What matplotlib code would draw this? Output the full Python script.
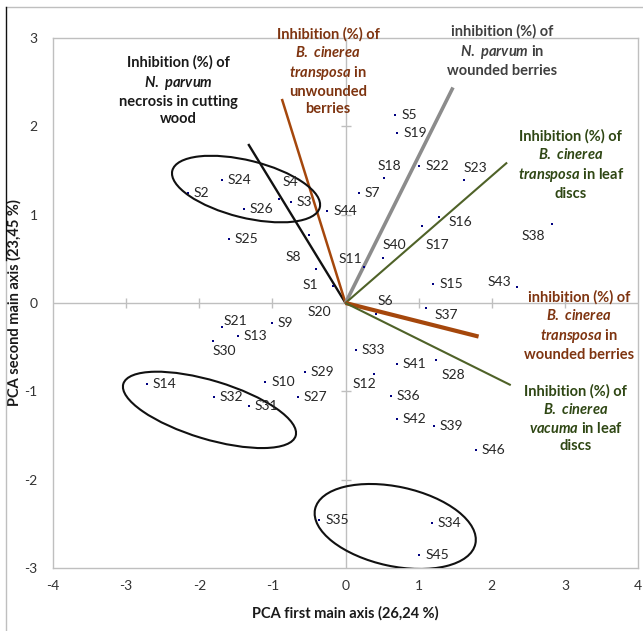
import matplotlib
matplotlib.use("Agg")
import matplotlib.pyplot as plt
from matplotlib.patches import Ellipse
from matplotlib.transforms import ScaledTranslation
from matplotlib.lines import Line2D

plt.rcParams['font.family'] = ['Lato', 'DejaVu Sans']
plt.rcParams['mathtext.fontset'] = 'custom'
plt.rcParams['mathtext.it'] = 'Lato:bold:italic'
plt.rcParams['mathtext.rm'] = 'Lato:bold'
plt.rcParams['mathtext.bf'] = 'Lato:bold'

# scores of the strains on the first two axes
strains = ['S1', 'S2', 'S3', 'S4', 'S5', 'S6', 'S7', 'S8', 'S9', 'S10',
           'S11', 'S12', 'S13', 'S14', 'S15', 'S16', 'S17', 'S18', 'S19', 'S20',
           'S21', 'S22', 'S23', 'S24', 'S25', 'S26', 'S27', 'S28', 'S29', 'S30',
           'S31', 'S32', 'S33', 'S34', 'S35', 'S36', 'S37', 'S38', 'S39', 'S40',
           'S41', 'S42', 'S43', 'S44', 'S45', 'S46']
pc1 = [-0.41, -2.16, -0.75, -0.91, 0.68, 0.42, 0.18, -0.50, -1.01, -1.10,
       0.25, 0.39, -1.47, -2.72, 1.20, 1.28, 1.05, 0.52, 0.71, -0.175,
       -1.69, 1.01, 1.62, -1.69, -1.60, -1.39, -0.65, 1.24, -0.56, -1.81,
       -1.32, -1.80, 0.14, 1.18, -0.36, 0.62, 1.10, 2.82, 1.21, 0.51,
       0.70, 0.70, 2.34, -0.25, 1.01, 1.78]
pc2 = [0.39, 1.25, 1.14, 1.18, 2.13, -0.12, 1.25, 0.77, -0.23, -0.89,
       0.41, -0.80, -0.37, -0.92, 0.21, 0.97, 0.87, 1.41, 1.93, 0.19,
       -0.275, 1.55, 1.39, 1.39, 0.73, 1.06, -1.06, -0.65, -0.78, -0.43,
       -1.17, -1.06, -0.53, -2.49, -2.46, -1.05, -0.06, 0.90, -1.39, 0.51,
       -0.69, -1.31, 0.18, 1.04, -2.85, -1.66]

# variable loadings (arrows)
var_x = [-1.33, -0.87, 1.47, 2.21, 1.82, 2.26]
var_y = [1.80, 2.31, 2.44, 1.59, -0.38, -0.93]
var_text = [
    "Inhibition (%) of\n$\\mathit{N.\\ parvum}$\nnecrosis in cutting\nwood",
    "Inhibition (%) of\n$\\mathit{B.\\ cinerea}$\n$\\mathit{transposa}$ in\nunwounded\nberries",
    "inhibition (%) of\n$\\mathit{N.\\ parvum}$ in\nwounded berries",
    "Inhibition (%) of\n$\\mathit{B.\\ cinerea}$\n$\\mathit{transposa}$ in leaf\ndiscs",
    "inhibition (%) of\n$\\mathit{B.\\ cinerea}$\n$\\mathit{transposa}$ in\nwounded berries",
    "Inhibition (%) of\n$\\mathit{B.\\ cinerea}$\n$\\mathit{vacuma}$ in leaf\ndiscs",
]
text_x = [-2.29, -0.24, 2.14, 3.08, 3.19, 3.15]
text_y = [2.40, 2.62, 2.85, 1.56, -0.26, -1.31]
line_col = ['#111111', '#A5470C', '#8C8C8C', '#4F6228', '#A5470C', '#4F6228']
line_w = [1.7, 1.8, 2.6, 1.5, 3.0, 1.5]
text_col = ['#1a1a1a', '#7E3410', '#404040', '#2F4714', '#7E3410', '#2F4714']

# groups circled on the plot: centre (data), semi-axes (px), angle
ell_cx = [-1.36, -1.86, 0.68]
ell_cy = [1.29, -1.21, -2.53]
ell_a = [76, 90, 82]
ell_b = [28.6, 29.2, 39.7]
ell_ang = [-14, -16.8, -12.2]

# label placement (pixel offsets) for labels not sitting right of their dot
lab_pos = {
    'S4': (4, 17, 'left'), 'S8': (-8, -22, 'right'), 'S1': (3, -16, 'right'),
    'S20': (-2, -26, 'right'), 'S11': (-1, 8, 'right'), 'S18': (6, 12, 'center'),
    'S23': (11, 12, 'center'), 'S17': (3, -19, 'left'), 'S40': (0, 13, 'left'),
    'S38': (-7, -13, 'right'), 'S43': (-5, 5, 'right'), 'S6': (1, 13, 'left'),
    'S37': (9, -7, 'left'), 'S28': (5, -15, 'left'), 'S12': (2, -10, 'right'),
    'S21': (2, 6, 'left'), 'S30': (-1, -10, 'left'), 'S16': (9, -5, 'left'),
}

fig = plt.figure(figsize=(6.43, 6.31), dpi=100)
ax = fig.add_axes([53 / 643, 1 - 568 / 631, 585 / 643, 530 / 631])
ax.set_xlim(-4, 4)
ax.set_ylim(-3, 3)

for s in ax.spines.values():
    s.set_color('#BFBFBF')
    s.set_linewidth(1.0)

ticks_x = [-4, -3, -2, -1, 0, 1, 2, 3, 4]
ticks_y = [-3, -2, -1, 0, 1, 2, 3]
ax.set_xticks(ticks_x)
ax.set_yticks(ticks_y)
ax.set_xticklabels([str(t) for t in ticks_x])
ax.set_yticklabels([str(t) for t in ticks_y])
ax.tick_params(length=0, labelsize=10, colors='#333333')
ax.tick_params(axis='x', pad=9)
ax.tick_params(axis='y', pad=11)

# axes through the origin with cross ticks
ax.axhline(0, color='#BFBFBF', lw=1.0, zorder=1)
ax.axvline(0, color='#BFBFBF', lw=1.0, zorder=1)
ax.plot(ticks_x[1:-1], [0] * 7, ls='none', marker='|', ms=7, mew=1.0,
        color='#BFBFBF', zorder=1)
ax.plot([0] * 5, ticks_y[1:-1], ls='none', marker='_', ms=7, mew=1.0,
        color='#BFBFBF', zorder=1)

ax.set_xlabel('PCA first main axis (26,24 %)', fontsize=10.5, fontweight='bold',
              color='#1a1a1a')
ax.set_ylabel('PCA second main axis (23,45 %)', fontsize=10.5, fontweight='bold',
              color='#1a1a1a')
ax.xaxis.set_label_coords(0.5, -(613 - 568) / 530)
ax.yaxis.set_label_coords(-(53 - 14) / 585, 0.5)
ax.xaxis.label.set_va('center')
ax.yaxis.label.set_va('center')

# loading vectors and their captions
for i in range(len(var_x)):
    ax.plot([0, var_x[i]], [0, var_y[i]], color=line_col[i], lw=line_w[i],
            solid_capstyle='butt', zorder=3)
    ax.text(text_x[i], text_y[i], var_text[i], color=text_col[i], fontsize=10.5,
            fontweight='bold', ha='center', va='center', linespacing=1.3,
            multialignment='center', zorder=5)

# strain scores
ax.scatter(pc1, pc2, s=4, color='#000080', marker='s', linewidths=0, zorder=4)
for name, x, y in zip(strains, pc1, pc2):
    dx, dy, ha = lab_pos.get(name, (6, 0, 'left'))
    ax.annotate(name, (x, y), xytext=(dx, dy), textcoords='offset pixels',
                ha=ha, va='center', fontsize=10, color='#262626', zorder=5)

# circled groups, drawn in pixel units around a data centre
for i in range(len(ell_cx)):
    tr = fig.dpi_scale_trans + ScaledTranslation(ell_cx[i], ell_cy[i], ax.transData)
    ax.add_patch(Ellipse((0, 0), 2 * ell_a[i] / 100, 2 * ell_b[i] / 100,
                         angle=ell_ang[i], fill=False, ec='#111111', lw=1.5,
                         transform=tr, zorder=4))

# outer picture frame
fig.add_artist(Line2D([6 / 643, 1], [1 - 7 / 631] * 2, color='#BFBFBF', lw=1,
                      transform=fig.transFigure))
fig.add_artist(Line2D([6 / 643] * 2, [0, 1 - 260 / 631], color='#BFBFBF', lw=1,
                      transform=fig.transFigure))
fig.add_artist(Line2D([6 / 643] * 2, [1 - 260 / 631, 1 - 7 / 631], color='#111111',
                      lw=1, transform=fig.transFigure))

fig.savefig('out.png', dpi=100)
